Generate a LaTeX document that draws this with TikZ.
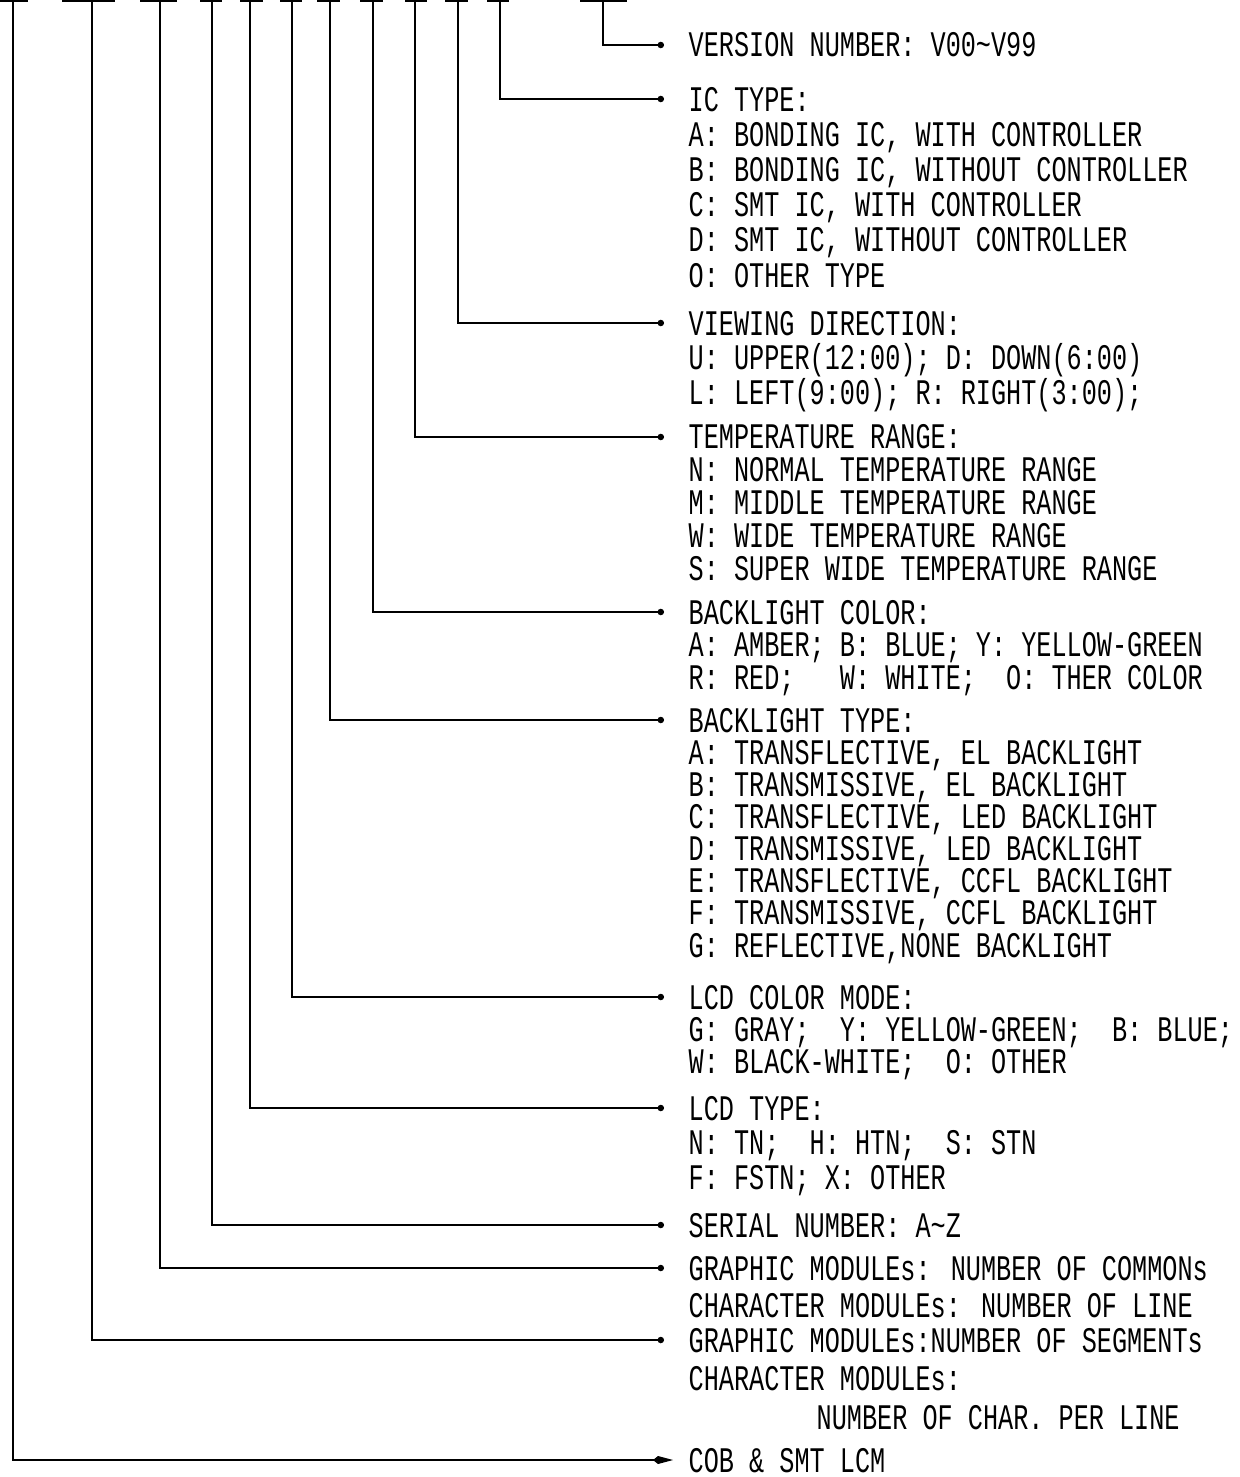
\documentclass[tikz,border=0pt]{standalone}
\usepackage{fontspec}
\setmainfont{Liberation Mono}[FakeStretch=0.7]
\usetikzlibrary{arrows.meta}

\begin{document}
\begin{tikzpicture}[x=0.5pt, y=-0.5pt, line width=0.7pt,
	sect/.style={anchor=base west, align=left, inner sep=0pt, font=\fontsize{18}{#1}\selectfont},
	lead/.style={-{Circle[length=3.2pt]}},
	bar/.style={line width=0.9pt}]
	\useasboundingbox (0,0) rectangle (1239,1477);

	% each node is placed by the baseline of its last line
	\node[sect=17] (ver) at (688,57)      {VERSION NUMBER: V00\textasciitilde V99};
	\node[sect=17.6] (ic) at (688,287)    {IC TYPE:\\A: BONDING IC, WITH CONTROLLER\\B: BONDING IC, WITHOUT CONTROLLER\\C: SMT IC, WITH CONTROLLER\\D: SMT IC, WITHOUT CONTROLLER\\O: OTHER TYPE};
	\node[sect=17.25] (view) at (688,404) {VIEWING DIRECTION:\\U: UPPER(12:00); D: DOWN(6:00)\\L: LEFT(9:00); R: RIGHT(3:00);};
	\node[sect=16.4] (temp) at (688,580)  {TEMPERATURE RANGE:\\N: NORMAL TEMPERATURE RANGE\\M: MIDDLE TEMPERATURE RANGE\\W: WIDE TEMPERATURE RANGE\\S: SUPER WIDE TEMPERATURE RANGE};
	\node[sect=16.25] (blc) at (688,689)  {BACKLIGHT COLOR:\\A: AMBER; B: BLUE; Y: YELLOW-GREEN\\R: RED;\ \ \ W: WHITE;\ \ O: THER COLOR};
	\node[sect=16.07] (blt) at (688,957)  {BACKLIGHT TYPE:\\A: TRANSFLECTIVE, EL BACKLIGHT\\B: TRANSMISSIVE, EL BACKLIGHT\\C: TRANSFLECTIVE, LED BACKLIGHT\\D: TRANSMISSIVE, LED BACKLIGHT\\E: TRANSFLECTIVE, CCFL BACKLIGHT\\F: TRANSMISSIVE, CCFL BACKLIGHT\\G: REFLECTIVE,NONE BACKLIGHT};
	\node[sect=16] (lcdc) at (688,1073)   {LCD COLOR MODE:\\G: GRAY;\ \ Y: YELLOW-GREEN;\ \ B: BLUE;\\W: BLACK-WHITE;\ \ O: OTHER};
	\node[sect=17.25] (lcdt) at (688,1189) {LCD TYPE:\\N: TN;\ \ H: HTN;\ \ S: STN\\F: FSTN; X: OTHER};
	\node[sect=17] (ser) at (688,1237)    {SERIAL NUMBER: A\textasciitilde Z};
	\node[sect=18.5] (gra) at (688,1317)  {GRAPHIC MODULEs: NUMBER OF COMMONs\\CHARACTER MODULEs: NUMBER OF LINE};
	\node[sect=19.25] (grb) at (688,1429) {GRAPHIC MODULEs:NUMBER OF SEGMENTs\\CHARACTER MODULEs:\\\hspace*{64pt}NUMBER OF CHAR. PER LINE};
	\node[sect=17] (cob) at (688,1472)    {COB \& SMT LCM};

	% top marks
	\draw[bar] (0,1) -- (28,1);
	\draw[bar] (62,1) -- (115,1);
	\draw[bar] (140,1) -- (177,1);
	\draw[bar] (200,1) -- (222,1);
	\draw[bar] (240,1) -- (263,1);
	\draw[bar] (280,1) -- (302,1);
	\draw[bar] (317,1) -- (340,1);
	\draw[bar] (360,1) -- (383,1);
	\draw[bar] (405,1) -- (427,1);
	\draw[bar] (445,1) -- (468,1);
	\draw[bar] (487,1) -- (509,1);
	\draw[bar] (580,1) -- (627,1);

	\coordinate (tcob) at (13,1);
	\coordinate (tgrb) at (92,1);
	\coordinate (tgra) at (160,1);
	\coordinate (tser) at (212,1);
	\coordinate (tlcdt) at (250,1);
	\coordinate (tlcdc) at (292,1);
	\coordinate (tblt) at (330,1);
	\coordinate (tblc) at (373,1);
	\coordinate (ttemp) at (415,1);
	\coordinate (tview) at (458,1);
	\coordinate (tic) at (500,1);
	\coordinate (tver) at (603,1);

	\coordinate (pver) at (664,45);
	\coordinate (pic) at (664,99);
	\coordinate (pview) at (664,323);
	\coordinate (ptemp) at (664,437);
	\coordinate (pblc) at (664,612);
	\coordinate (pblt) at (664,720);
	\coordinate (plcdc) at (664,997);
	\coordinate (plcdt) at (664,1108);
	\coordinate (pser) at (664,1225);
	\coordinate (pgra) at (664,1268);
	\coordinate (pgrb) at (664,1340);
	\coordinate (pcob) at (673,1460);

	\draw[lead] (tver) |- (pver);
	\draw[lead] (tic) |- (pic);
	\draw[lead] (tview) |- (pview);
	\draw[lead] (ttemp) |- (ptemp);
	\draw[lead] (tblc) |- (pblc);
	\draw[lead] (tblt) |- (pblt);
	\draw[lead] (tlcdc) |- (plcdc);
	\draw[lead] (tlcdt) |- (plcdt);
	\draw[lead] (tser) |- (pser);
	\draw[lead] (tgra) |- (pgra);
	\draw[lead] (tgrb) |- (pgrb);
	\draw[-{Kite[length=10pt,width=4pt]}] (tcob) |- (pcob);

\end{tikzpicture}
\end{document}
